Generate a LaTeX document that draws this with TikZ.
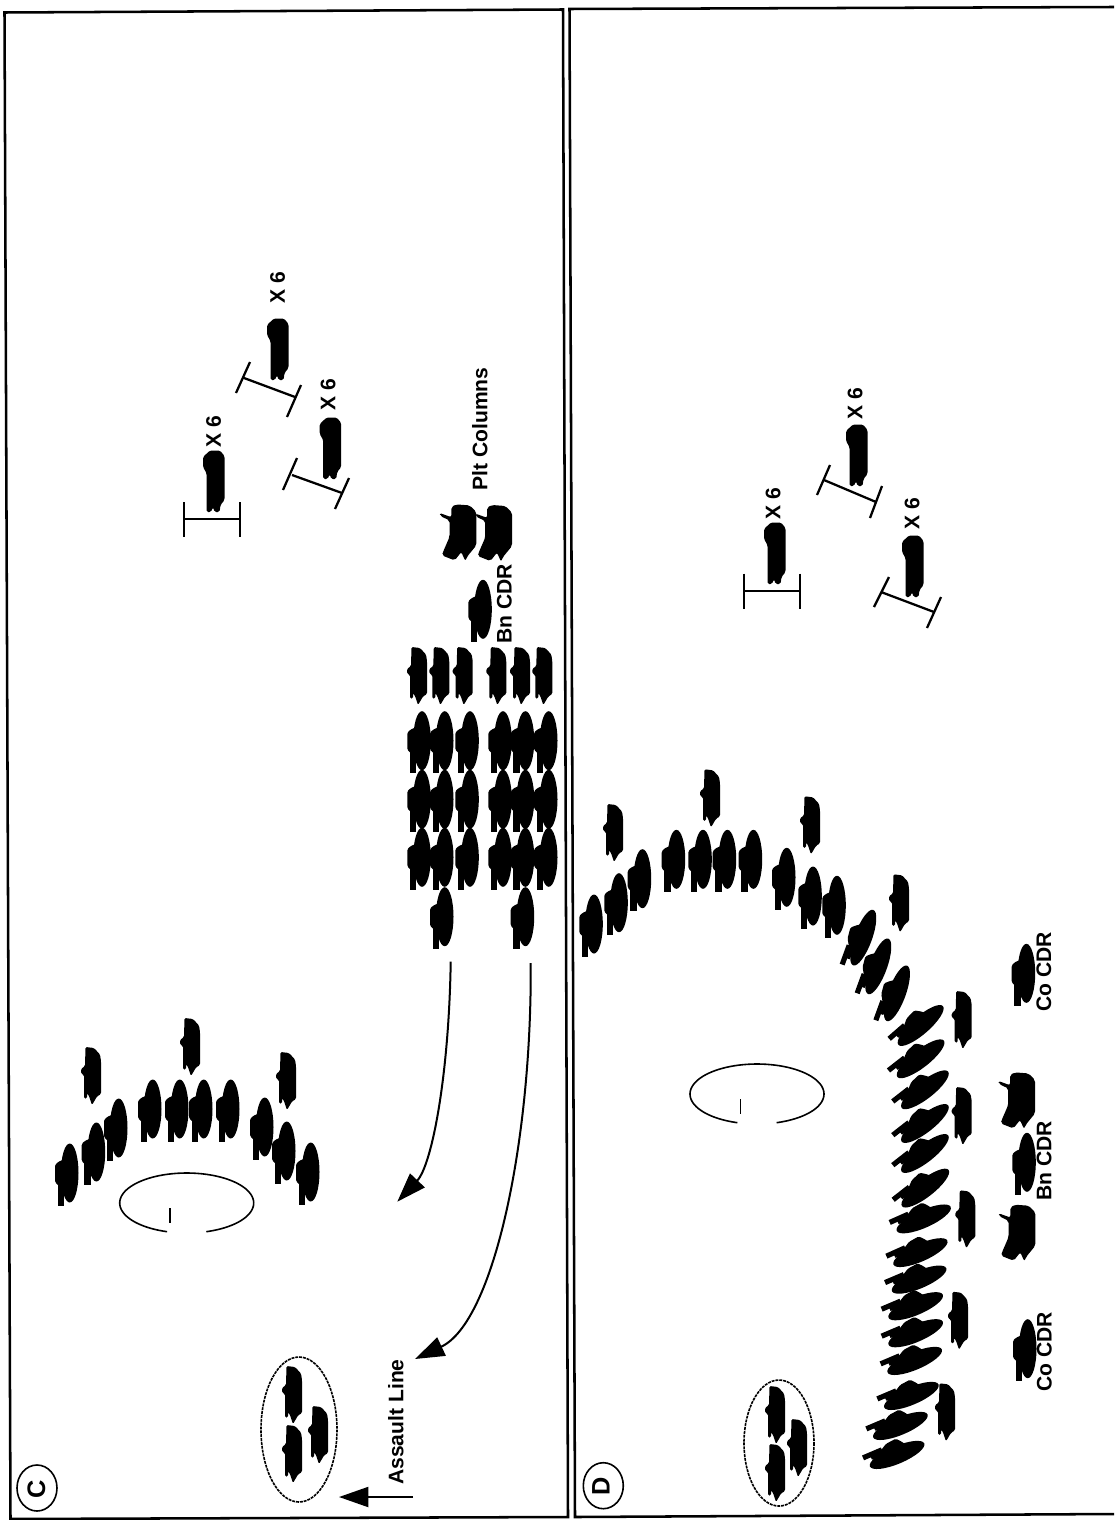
\documentclass[tikz,border=0pt]{standalone}
\usepackage{fontspec}
\setmainfont{Liberation Sans}
\usetikzlibrary{arrows.meta}
\tikzset{
  framepen/.style={line width=1.9pt,black},
  ibeam/.style={line width=1.7pt,black},
  ringpen/.style={line width=1.2pt,black},
  dashring/.style={line width=1.2pt,black,dash pattern=on 2.2pt off 0.7pt},
  curvearrow/.style={line width=1.5pt,black,-{Triangle[length=22pt,width=15pt]}},
  lab/.style={font=\bfseries\fontsize{15.8}{15.8}\selectfont,rotate=90,inner sep=0pt,text height=11pt,text depth=0pt},
  letterlab/.style={font=\bfseries\fontsize{19}{19}\selectfont,rotate=90,inner sep=0pt,text height=13.5pt,text depth=0pt},
  tank/.pic={
    \fill[black] (-0.3,0) ellipse [x radius=8.8,y radius=29.5];
    \fill[black,rounded corners=1pt] (-3,-15) -- (-12,-11) -- (-15,-8) -- (-15,9) -- (-11,13) -- (-3,19) -- cycle;
    \fill[black] (-12.5,6) -- (-6.2,6) -- (-6.2,32.5) -- (-12.5,32.5) -- cycle;
  },
  tanklean/.pic={
    \fill[black] (1,0) ellipse [x radius=8.8,y radius=29.5];
    \fill[black,rounded corners=1pt] (-2,-14) -- (-10,-9) -- (-14.5,-5) -- (-13.5,6) -- (-9,14) -- (-2,22) -- cycle;
    \fill[black] (-12.2,12) -- (-7,12) -- (-7,32.5) -- (-12.2,32.5) -- cycle;
    \fill[black] (-8,12) -- (-3,12) -- (-4.5,25) -- (-7.5,25) -- cycle;
  },
  apc/.pic={
    \fill[black,rounded corners=1pt] (-5.5,-29) -- (3,-28) -- (9,-21.5) -- (10,-15) -- (10,18) -- (6,20.5) -- (1,29) -- (-2,20) -- (-4,17) -- (-4,22.5) -- (-7,22.5) -- (-7,-1) -- (-10,-2.5) -- (-10,-7) -- (-6,-10) -- cycle;
  },
  trooper/.pic={
    \fill[black,rounded corners=1.2pt] (-4,-30.5) -- (6,-30.5) -- (10.5,-25) -- (10.5,19) -- (6.5,24) -- (5.5,31) -- (0.5,31) -- (-1,26) -- (-3,31) -- (-7.5,31) -- (-7.5,-8) -- (-11,-14) -- (-11,-24) -- cycle;
  },
  bigveh/.pic={
    \fill[black,rounded corners=1.5pt] (-18.3,-19.7) -- (-6.7,-15.5) -- (-6.7,-25.7) -- (-1.7,-28.3) -- (11.7,-27.3) -- (18.3,-20.7) -- (18.3,12.7) -- (9.3,23.7) -- (7.3,28.3) -- (3.3,19.3) -- (-3.3,27.7) -- (-16,22.7) -- (-15,19.3) -- (-8.5,4.3) -- (-8.5,-12.3) -- (-17.7,-16.7) -- cycle;
  },
  corps/.pic={
    \draw[ringpen] plot[domain=107:433,samples=90,smooth] ({67*cos(\x)},{30*sin(\x)});
    \draw[ringpen] (-16.5,5) -- (-16.5,20);
  }
}
\begin{document}
\begin{tikzpicture}[x=0.75pt,y=-0.75pt]
\useasboundingbox (0,0) rectangle (1114,1520);
\fill[white] (0,0) rectangle (1114,1520);
% frames
\draw[framepen] (4.5,12.5) -- (563,9.5) -- (568,1517) -- (10.5,1519) -- cycle;
\draw[framepen] (1114,7) -- (569.5,9) -- (575,1517) -- (1114,1514);
% panel letters
\draw[line width=1.2pt] (37,1488) ellipse [x radius=20,y radius=23];
\node[letterlab] (letC) at (36,1489) {C};
\draw[line width=1.2pt] (603.3,1485.7) ellipse [x radius=20,y radius=23];
\node[letterlab] (letD) at (600.7,1486.5) {D};
% troop symbols
\foreach \p in {(214,481),(278,349),(330.7,448),(775,553),(857,455),(913,566)}
  \path \p pic{trooper};
\draw[ibeam] (184,502) -- (184,537) (240,502) -- (240,537) (184,519) -- (240,519);
\draw[ibeam] (250,362) -- (236,393) (301,385) -- (287,417) (244,378) -- (295,397);
\draw[ibeam] (297,458) -- (283,490) (349,478) -- (335,509) (292,475) -- (342,493);
\node[lab] (x1) at (213.5,432) {X 6};
\node[lab] (x2) at (277.5,288) {X 6};
\node[lab] (x3) at (328,395) {X 6};
% Panel C: columns
\foreach \p in {(458,532.7),(493.7,533.3),(1016.7,1100.7),(1017,1233)}
  \path \p pic{bigveh};
\node[lab] (plt) at (480,429) {Plt Columns};
\path (483.3,609.3) pic{tank};
\node[lab] (bnC) at (504.3,604) {Bn CDR};
\foreach \x in {417,439.3,462.7,496.3,520,542.3}
  \path (\x,676) pic{apc};
\foreach \x in {422.3,445,470.3,503.3,525.7,549}
  \foreach \y in {740.7,799.3,857.3}
    \path (\x,\y) pic{tank};
\path (445,916.7) pic{tank};
\path (525.7,916.7) pic{tank};
% Panel C: arrows
\coordinate (a1s) at (450.7,961.7);
\coordinate (a1e) at (397.3,1201.7);
\coordinate (a2s) at (530.7,963);
\coordinate (a2e) at (415,1359);
\draw[curvearrow] (a1s) .. controls (449,1075) and (432,1165) .. (a1e);
\draw[curvearrow] (a2s) .. controls (532,1140) and (494,1322) .. (a2e);
% Panel C: upper group
\foreach \p in {(70,1173),(96.7,1152),(119,1128),(153,1109),(180,1109),(204,1109),(231,1109),(265,1127),(287,1151),(311,1172)}
  \path \p pic{tank};
\foreach \p in {(91,1076),(190,1047),(286,1081)}
  \path \p pic{apc};
\path (186.7,1203) pic{corps};
% Panel C: assault
\draw[dashring] (299,1429.5) ellipse [x radius=38,y radius=72.5];
\foreach \p in {(292,1395),(292,1454),(318,1435)}
  \path \p pic{apc};
\node[lab] (assault) at (396,1422) {Assault Line};
\coordinate (a3s) at (413,1497);
\coordinate (a3e) at (339,1497);
\draw[curvearrow] (a3s) -- (a3e);
% Panel D: range symbols
\draw[ibeam] (744,573.5) -- (744,608.5) (800,573.5) -- (800,608.5) (744,591) -- (800,591);
\draw[ibeam] (830,465) -- (817,495) (882,486) -- (870,518) (824,480) -- (876,502);
\draw[ibeam] (889,577) -- (874,607) (941,597) -- (927,628) (881,592) -- (934,612);
\node[lab] (x4) at (773,504) {X 6};
\node[lab] (x5) at (855,404) {X 6};
\node[lab] (x6) at (912,514) {X 6};
% Panel D: upper arc
\foreach \p in {(594.3,924),(619.3,902.7),(642.7,878.7),(676.7,859.3),(703.3,859.3),(727.7,859.3),(753.7,859.3),(787,877.3),(813.3,896),(837.3,905.3)}
  \path \p pic{tank};
\foreach \p in {(613,833),(710,798.3),(810,825.3),(899,903.3),(961.7,1020),(961.7,1116),(965.3,1219.3),(958,1320.7),(945,1412.3)}
  \path \p pic{apc};
% Panel D: rotated tanks
\foreach \p/\a in {(862.3,937.3)/20,(877.3,966)/20,(896,993)/20,(920,1024.7)/49,(920,1058)/52,(924.3,1089)/52,(924.3,1122.7)/52,(924.3,1152.7)/52,(924.7,1187.3)/52,(923.3,1218)/66,(920,1251.7)/66,(918.7,1278.7)/67,(915.3,1305.3)/67,(915.3,1332.3)/67,(914.3,1360)/67,(911,1395)/67,(900,1425)/67,(896.7,1454)/67}
  \path \p pic[rotate=-\a]{tanklean};
\path (757,1094) pic{corps};
% Panel D: commanders
\path (1026.7,973.3) pic{tank};
\node[lab] (co1) at (1043.7,971.7) {Co CDR};
\path (1027.3,1162.3) pic{tank};
\node[lab] (bnD) at (1044,1160.7) {Bn CDR};
\path (1028,1348.7) pic{tank};
\node[lab] (co2) at (1044.3,1351.7) {Co CDR};
% Panel D: dashed group
\draw[dashring] (779,1443) ellipse [x radius=35,y radius=63];
\foreach \p in {(775,1415),(775,1473),(797,1448)}
  \path \p pic{apc};
\end{tikzpicture}
\end{document}
